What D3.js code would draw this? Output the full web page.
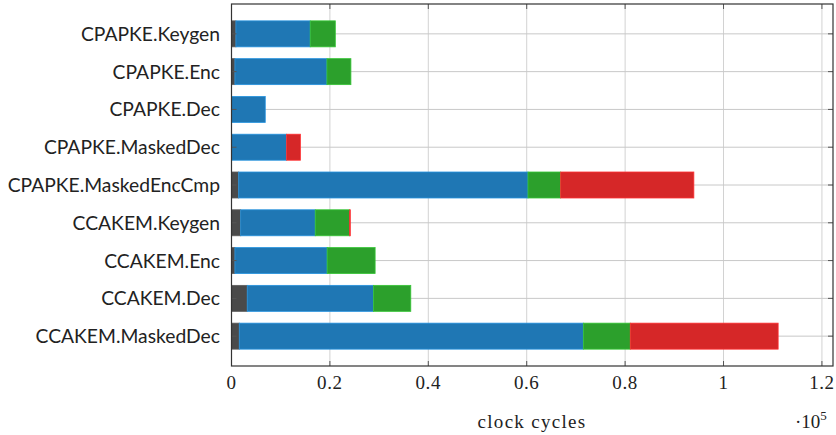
<!DOCTYPE html>
<html>
<head>
<meta charset="utf-8">
<script src="https://cdn.jsdelivr.net/npm/d3@7"></script>
<style>
  body { margin: 0; background: #fff; }
  .cat { font-family: Lato, "Open Sans", sans-serif; font-size: 19.3px; fill: #222; }
  .num { font-family: "Liberation Serif", "DejaVu Serif", serif; font-size: 19px; fill: #222; }
</style>
</head>
<body>
<svg id="chart" width="836" height="435"></svg>
<script>
// values in units of 1e5 clock cycles
const categories = ["CPAPKE.Keygen", "CPAPKE.Enc", "CPAPKE.Dec", "CPAPKE.MaskedDec",
  "CPAPKE.MaskedEncCmp", "CCAKEM.Keygen", "CCAKEM.Enc", "CCAKEM.Dec", "CCAKEM.MaskedDec"];
const partA = [0.009, 0.007, 0.000, 0.000, 0.0146, 0.0187, 0.007, 0.032, 0.0158];
const partB = [0.151, 0.187, 0.0686, 0.112, 0.588, 0.1515, 0.1874, 0.2566, 0.6993];
const partC = [0.051, 0.0487, 0.000, 0.000, 0.0664, 0.0698, 0.0975, 0.0758, 0.0954];
const partD = [0.000, 0.000, 0.000, 0.028, 0.2707, 0.0015, 0.000, 0.000, 0.3005];
const xTicks = [0, 0.2, 0.4, 0.6, 0.8, 1, 1.2];
const colors = ["#4a4a4a", "#1f77b4", "#2ca02c", "#d62728"];

const svg = d3.select("#chart");
const mLeft = 231.5, mRight = 833, mTop = 4, mBottom = 366;

const x = d3.scaleLinear().domain([0, 1.2225]).range([mLeft, mRight]);
const y = d3.scaleLinear().domain([-0.79, 8.79]).range([mTop, mBottom]);
const barH = 26;

const rows = categories.map((c, i) => ({ cat: c, i: i, parts: [partA[i], partB[i], partC[i], partD[i]] }));

// grid
svg.append("g").selectAll("line").data(xTicks).enter().append("line")
  .attr("x1", d => x(d)).attr("x2", d => x(d))
  .attr("y1", mTop).attr("y2", mBottom)
  .attr("stroke", "#d2d2d2").attr("stroke-width", 1);
svg.append("g").selectAll("line").data(rows).enter().append("line")
  .attr("x1", mLeft).attr("x2", mRight)
  .attr("y1", d => y(d.i)).attr("y2", d => y(d.i))
  .attr("stroke", "#c8c8c8").attr("stroke-width", 1);

// stacked bars
const segs = [];
rows.forEach(r => {
  let acc = 0;
  r.parts.forEach((v, k) => {
    if (v > 0) segs.push({ i: r.i, x0: acc, x1: acc + v, k: k });
    acc += v;
  });
});
svg.append("g").selectAll("rect").data(segs).enter().append("rect")
  .attr("x", d => x(d.x0))
  .attr("width", d => x(d.x1) - x(d.x0))
  .attr("y", d => y(d.i) - barH / 2)
  .attr("height", barH)
  .attr("fill", d => colors[d.k])
  .attr("stroke", d => d3.color(colors[d.k]).brighter(0.6))
  .attr("stroke-width", 0.8);

// ticks (inside)
const tk = svg.append("g").attr("stroke", "#555").attr("stroke-width", 1);
xTicks.forEach(t => {
  tk.append("line").attr("x1", x(t)).attr("x2", x(t)).attr("y1", mBottom).attr("y2", mBottom - 5);
  tk.append("line").attr("x1", x(t)).attr("x2", x(t)).attr("y1", mTop).attr("y2", mTop + 5);
});
rows.forEach(r => {
  tk.append("line").attr("x1", mLeft).attr("x2", mLeft + 5).attr("y1", y(r.i)).attr("y2", y(r.i));
  tk.append("line").attr("x1", mRight).attr("x2", mRight - 5).attr("y1", y(r.i)).attr("y2", y(r.i));
});

// frame
svg.append("rect").attr("x", mLeft).attr("y", mTop)
  .attr("width", mRight - mLeft).attr("height", mBottom - mTop)
  .attr("fill", "none").attr("stroke", "#333").attr("stroke-width", 1.2);

// labels
svg.append("g").selectAll("text").data(rows).enter().append("text")
  .attr("class", "cat")
  .attr("x", 220).attr("y", d => y(d.i))
  .attr("dy", "0.36em")
  .attr("text-anchor", "end")
  .text(d => d.cat);

svg.append("g").selectAll("text").data(xTicks).enter().append("text")
  .attr("class", "num")
  .attr("x", d => x(d)).attr("y", 389)
  .attr("text-anchor", "middle")
  .style("letter-spacing", "0.6px")
  .text(d => d3.format("")(d));

svg.append("text").attr("class", "num")
  .attr("x", 532).attr("y", 428).attr("text-anchor", "middle")
  .style("letter-spacing", "1.3px")
  .text("clock cycles");

const ex = svg.append("text").attr("class", "num").attr("x", 795).attr("y", 428);
ex.append("tspan").text("·10");
ex.append("tspan").attr("dy", -8).style("font-size", "13px").text("5");
</script>
</body>
</html>
